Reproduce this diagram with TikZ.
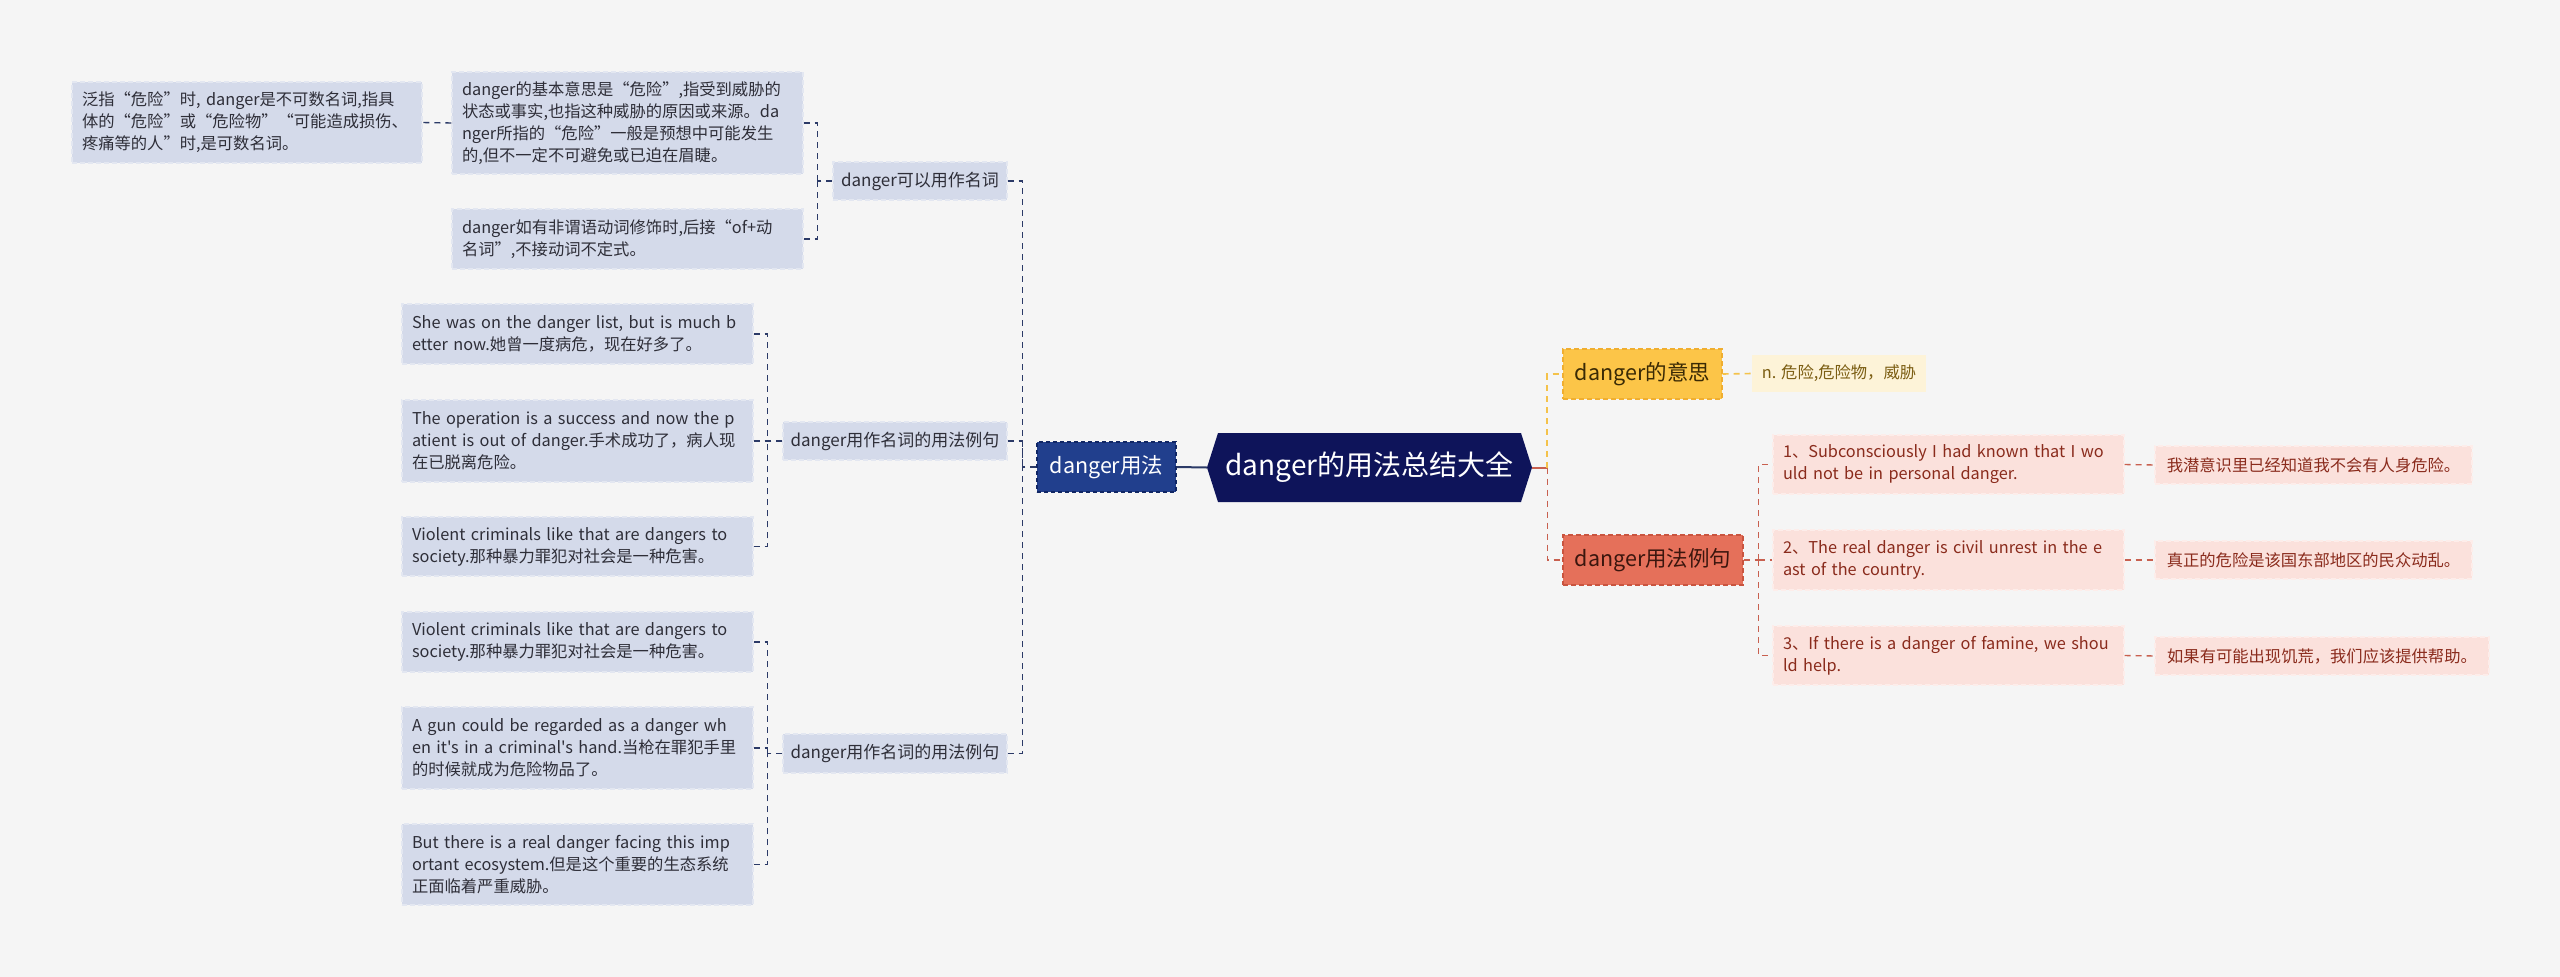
\documentclass[tikz,border=0pt]{standalone}
\usepackage{fontspec}
\newfontfamily\cjkf{Noto Sans CJK SC}
\definecolor{bgc}{HTML}{F5F5F5}
\definecolor{lfill}{HTML}{D4DAEA}
\definecolor{lborder}{HTML}{E3E7F1}
\definecolor{ltext}{HTML}{2E2E38}
\definecolor{lline}{HTML}{2B3A67}
\definecolor{ufill}{HTML}{213F8D}
\definecolor{uborder}{HTML}{102664}
\definecolor{rootfill}{HTML}{0E145A}
\definecolor{yfill}{HTML}{FCC548}
\definecolor{yborder}{HTML}{F0AE30}
\definecolor{ytext}{HTML}{3A2A05}
\definecolor{yline}{HTML}{F4C24A}
\definecolor{ylfill}{HTML}{FDF3D8}
\definecolor{yltext}{HTML}{7B5D12}
\definecolor{rfill}{HTML}{E5705A}
\definecolor{rborder}{HTML}{C9543F}
\definecolor{rtext}{HTML}{3B160E}
\definecolor{rline}{HTML}{C8604F}
\definecolor{efill}{HTML}{FBE1DC}
\definecolor{eborder}{HTML}{FDEDEA}
\definecolor{etext}{HTML}{8A2B1C}
\tikzset{
  dsh/.style={dash pattern=on 6pt off 5pt},
  lbox/.style={rectangle, fill=lfill, draw=lborder, line width=1.2pt, dash pattern=on 5pt off 3pt,
    inner xsep=10pt, inner ysep=3pt, text=ltext, font=\fontsize{16.3}{22}\selectfont, align=left},
  nbox/.style={rectangle, fill=lfill, draw=lborder, line width=1.2pt, dash pattern=on 5pt off 3pt,
    inner xsep=6pt, inner ysep=3pt, text=ltext, font=\fontsize{17}{22}\selectfont},
  ebox/.style={rectangle, fill=efill, draw=eborder, line width=1.2pt, dash pattern=on 5pt off 3pt,
    inner xsep=10pt, inner ysep=3pt, text=etext, font=\fontsize{16.3}{22}\selectfont, align=left},
  llink/.style={draw=lline, line width=1.4pt, dsh},
  ylink/.style={draw=yline, line width=1.6pt, dsh},
  rlink/.style={draw=rline, line width=1.4pt, dsh},
}
\begin{document}
\cjkf
\begin{tikzpicture}[x=1pt,y=-1pt]
\useasboundingbox[fill=bgc] (0,0) rectangle (2560,977);

% root hexagon
\fill[rootfill] (1207,467.5) -- (1218,433) -- (1521,433) -- (1532,467.5) -- (1521,502) -- (1218,502) -- cycle;
\node[minimum width=325pt, minimum height=69pt, inner sep=0pt, text=white, font=\fontsize{28}{32}\selectfont] (root) at (1369.5,467.5) {danger的用法总结大全};

% left level 1
\node[rectangle, fill=ufill, draw=uborder, line width=1.4pt, dash pattern=on 4pt off 3pt, minimum width=139pt, minimum height=50pt, inner sep=0pt, text=white, font=\fontsize{21.5}{26}\selectfont] (U) at (1106.5,467) {danger用法};

% left level 2
\node[nbox, minimum width=174pt, minimum height=38pt] (N1) at (920,181) {danger可以用作名词};
\node[nbox, minimum width=224pt, minimum height=38pt] (N2) at (895,441) {danger用作名词的用法例句};
\node[nbox, minimum width=224pt, minimum height=39pt] (N3) at (895,753.5) {danger用作名词的用法例句};

% left level 3
\node[lbox, text width=331pt, minimum height=102pt] (A1) at (627.5,123) {danger的基本意思是“危险”,指受到威胁的\\状态或事实,也指这种威胁的原因或来源。da\\nger所指的“危险”一般是预想中可能发生\\的,但不一定不可避免或已迫在眉睫。};
\node[lbox, text width=331pt, minimum height=60pt] (A2) at (627.5,239) {danger如有非谓语动词修饰时,后接“of+动\\名词”,不接动词不定式。};
\node[lbox, text width=330pt, minimum height=81pt] (L0) at (247,122.5) {泛指“危险”时, danger是不可数名词,指具\\体的“危险”或“危险物”“可能造成损伤、\\疼痛等的人”时,是可数名词。};

\node[lbox, text width=331pt, minimum height=60pt] (B1) at (577.5,334) {She was on the danger list, but is much b\\etter now.她曾一度病危，现在好多了。};
\node[lbox, text width=331pt, minimum height=82pt] (B2) at (577.5,441) {The operation is a success and now the p\\atient is out of danger.手术成功了，病人现\\在已脱离危险。};
\node[lbox, text width=331pt, minimum height=59pt] (B3) at (577.5,546.5) {Violent criminals like that are dangers to\\society.那种暴力罪犯对社会是一种危害。};

\node[lbox, text width=331pt, minimum height=60pt] (C1) at (577.5,642) {Violent criminals like that are dangers to\\society.那种暴力罪犯对社会是一种危害。};
\node[lbox, text width=331pt, minimum height=82pt] (C2) at (577.5,748) {A gun could be regarded as a danger wh\\en it's in a criminal's hand.当枪在罪犯手里\\的时候就成为危险物品了。};
\node[lbox, text width=331pt, minimum height=81pt] (C3) at (577.5,864.5) {But there is a real danger facing this imp\\ortant ecosystem.但是这个重要的生态系统\\正面临着严重威胁。};

% right level 1
\node[rectangle, fill=yfill, draw=yborder, line width=1.4pt, dash pattern=on 5pt off 3pt, minimum width=159pt, minimum height=50pt, inner sep=0pt, text=ytext, font=\fontsize{21.5}{26}\selectfont] (R1) at (1642.5,374) {danger的意思};
\node[rectangle, fill=rfill, draw=rborder, line width=1.4pt, dash pattern=on 5pt off 3pt, minimum width=180pt, minimum height=50pt, inner sep=0pt, text=rtext, font=\fontsize{21.5}{26}\selectfont] (R2) at (1653,560) {danger用法例句};

% right level 2
\node[rectangle, fill=ylfill, minimum width=174pt, minimum height=37pt, inner sep=0pt, text=yltext, font=\fontsize{16.3}{22}\selectfont] (R1a) at (1839,373.5) {n. 危险,危险物，威胁};

\node[ebox, text width=331pt, minimum height=59pt] (E1) at (1948.5,464.5) {1、Subconsciously I had known that I wo\\uld not be in personal danger.};
\node[ebox, text width=331pt, minimum height=60pt] (E2) at (1948.5,560) {2、The real danger is civil unrest in the e\\ast of the country.};
\node[ebox, text width=331pt, minimum height=59pt] (E3) at (1948.5,655.5) {3、If there is a danger of famine, we shou\\ld help.};

\node[ebox, inner xsep=8pt, minimum width=317pt, minimum height=38pt] (Ea1) at (2313.5,465) {我潜意识里已经知道我不会有人身危险。};
\node[ebox, inner xsep=8pt, minimum width=317pt, minimum height=38pt] (Ea2) at (2313.5,560) {真正的危险是该国东部地区的民众动乱。};
\node[ebox, inner xsep=8pt, minimum width=334pt, minimum height=38pt] (Ea3) at (2322,656) {如果有可能出现饥荒，我们应该提供帮助。};

% connectors left
\draw[lline, line width=2pt] (U.east) -- (root.west);
\draw[llink] (U.west) -- ++(-14,0) coordinate (jU);
\draw[llink] (N1.east) -| (jU);
\draw[llink] (N2.east) -| (jU);
\draw[llink] (N3.east) -| (jU);

\draw[llink] (N1.west) -- ++(-15,0) coordinate (j1);
\draw[llink] (A1.east) -| (j1);
\draw[llink] (A2.east) -| (j1);
\draw[llink] (A1.west) -- (L0.east);

\draw[llink] (N2.west) -- ++(-15,0) coordinate (j2);
\draw[llink] (B1.east) -| (j2);
\draw[llink] (B2.east) -| (j2);
\draw[llink] (B3.east) -| (j2);

\draw[llink] (N3.west) -- ++(-15,0) coordinate (j3);
\draw[llink] (C1.east) -| (j3);
\draw[llink] (C2.east) -| (j3);
\draw[llink] (C3.east) -| (j3);

% connectors right
\draw[rline, line width=2pt] (root.east) -- ++(15,0) coordinate (jR);
\draw[ylink] (jR) |- (R1.west);
\draw[rlink] (jR) |- (R2.west);
\draw[ylink] (R1.east) -- (R1a.west);

\draw[rlink] (R2.east) -- ++(15,0) coordinate (jE);
\draw[rlink] (jE) |- (E1.west);
\draw[rlink] (jE) |- (E2.west);
\draw[rlink] (jE) |- (E3.west);
\draw[rlink] (E1.east) -- (Ea1.west);
\draw[rlink] (E2.east) -- (Ea2.west);
\draw[rlink] (E3.east) -- (Ea3.west);
\end{tikzpicture}
\end{document}
